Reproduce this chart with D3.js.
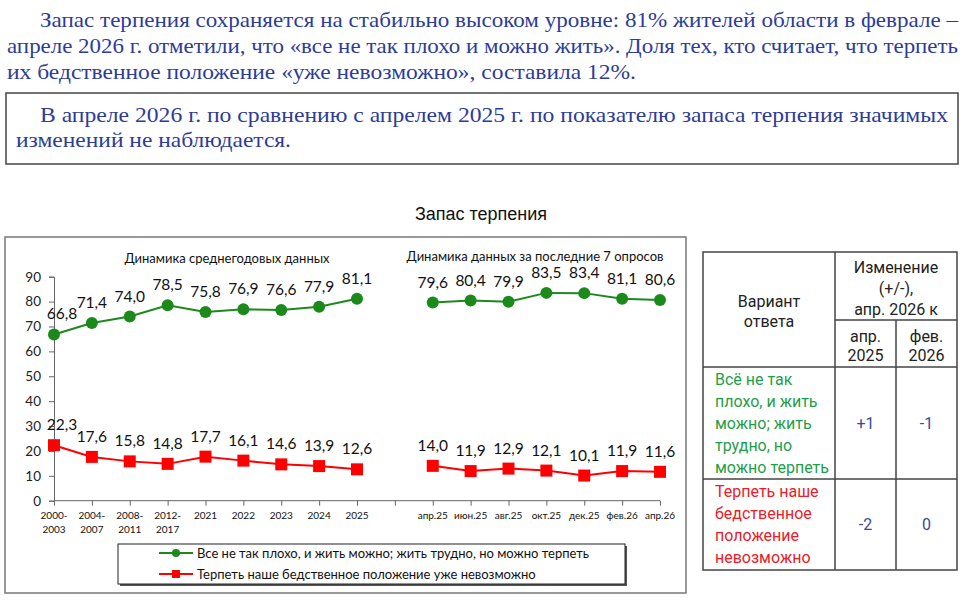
<!DOCTYPE html>
<html>
<head>
<meta charset="utf-8">
<script src="https://cdn.jsdelivr.net/npm/d3@7"></script>
<style>
  body { margin: 0; background: #fff; }
  svg { display: block; }
</style>
</head>
<body>
<div id="chart"></div>
<script>
// chart data
const annualLabels = ['2000-2003', '2004-2007', '2008-2011', '2012-2017', '2021', '2022', '2023', '2024', '2025'];
const surveyLabels = ['апр.25', 'июн.25', 'авг.25', 'окт.25', 'дек.25', 'фев.26', 'апр.26'];
const okAnnual = [66.8, 71.4, 74.0, 78.5, 75.8, 76.9, 76.6, 77.9, 81.1];
const okSurvey = [79.6, 80.4, 79.9, 83.5, 83.4, 81.1, 80.6];
const badAnnual = [22.3, 17.6, 15.8, 14.8, 17.7, 16.1, 14.6, 13.9, 12.6];
const badSurvey = [14.0, 11.9, 12.9, 12.1, 10.1, 11.9, 11.6];
const yTicks = [0, 10, 20, 30, 40, 50, 60, 70, 80, 90];
const seriesNames = ['Все не так плохо, и жить можно; жить трудно, но можно терпеть',
                     'Терпеть наше бедственное положение уже невозможно'];

// table data
const tableAnswers = [['Всё не так', 'плохо, и жить', 'можно; жить', 'трудно, но', 'можно терпеть'],
                      ['Терпеть наше', 'бедственное', 'положение', 'невозможно']];
const tableChanges = [['+1', '-1'], ['-2', '0']];
const tableHead = ['Изменение', '(+/-),', 'апр. 2026 к'];
const tableSubHead = [['апр.', '2025'], ['фев.', '2026']];

// text
const para1 = ['Запас терпения сохраняется на стабильно высоком уровне: 81% жителей области в феврале –',
               'апреле 2026 г. отметили, что «все не так плохо и можно жить». Доля тех, кто считает, что терпеть',
               'их бедственное положение «уже невозможно», составила 12%.'];
const para2 = ['В апреле 2026 г. по сравнению с апрелем 2025 г. по показателю запаса терпения значимых',
               'изменений не наблюдается.'];

const W = 966, H = 602;
const blue = '#2d3c98', green = '#1b8a1b', red = '#ff0000';
const chartFont = 'Lato, "Open Sans", sans-serif';

const svg = d3.select('#chart').append('svg')
    .attr('width', W)
    .attr('height', H);

// paragraphs (justified lines)
const serif = '"Liberation Serif", "DejaVu Serif", serif';
const p1Lines = [{x: 40, w: 918, y: 27}, {x: 7, w: 951, y: 53}, {x: 7, w: 629, y: 79}];
para1.forEach((t, i) => {
  svg.append('text')
      .attr('x', p1Lines[i].x).attr('y', p1Lines[i].y)
      .attr('textLength', p1Lines[i].w).attr('lengthAdjust', 'spacingAndGlyphs')
      .style('font-family', serif).style('font-size', '22px').style('fill', blue)
      .text(t);
});

svg.append('rect')
    .attr('x', 6).attr('y', 93).attr('width', 952).attr('height', 71)
    .style('fill', 'none').style('stroke', '#444').style('stroke-width', 1.5);

const p2Lines = [{x: 40, w: 908, y: 122}, {x: 16, w: 275, y: 147}];
para2.forEach((t, i) => {
  svg.append('text')
      .attr('x', p2Lines[i].x).attr('y', p2Lines[i].y)
      .attr('textLength', p2Lines[i].w).attr('lengthAdjust', 'spacingAndGlyphs')
      .style('font-family', serif).style('font-size', '22px').style('fill', blue)
      .text(t);
});

// chart title
svg.append('text')
    .attr('x', 481).attr('y', 220)
    .style('text-anchor', 'middle')
    .style('font-family', '"Liberation Sans", Arial, sans-serif')
    .style('font-size', '18px').style('fill', '#111')
    .text('Запас терпения');

// chart frame
svg.append('rect')
    .attr('x', 5).attr('y', 237).attr('width', 681).attr('height', 356)
    .style('fill', '#fff').style('stroke', '#777').style('stroke-width', 1.5);

// scales
const categories = annualLabels.concat([''], surveyLabels);
const x = d3.scalePoint().domain(categories).range([54, 660]);
const y = d3.scaleLinear().domain([0, 90]).range([500.7, 276.7]);

const fmt = d3.formatLocale({decimal: ',', thousands: ' ', grouping: [3], currency: ['', '']}).format('.1f');

// axes
const yAxis = svg.append('g')
    .attr('transform', 'translate(54,0)')
    .call(d3.axisLeft(y).tickValues(yTicks).tickSize(5).tickPadding(8).tickFormat(d3.format('d')));
yAxis.selectAll('text').style('font-family', chartFont).style('font-size', '13.5px').style('fill', '#222');

const xAxis = svg.append('g')
    .attr('transform', 'translate(0,' + y(0) + ')')
    .call(d3.axisBottom(x).tickSize(5).tickFormat(''));
xAxis.select('.domain').attr('d', 'M' + x.range()[0] + ',0H' + x.range()[1]);

[yAxis, xAxis].forEach(a => {
  a.selectAll('.domain, .tick line').style('stroke', '#666');
});

// x labels (wrap ranges after hyphen)
categories.forEach(c => {
  if (!c) return;
  const parts = c.indexOf('-') > 0 ? [c.slice(0, c.indexOf('-') + 1), c.slice(c.indexOf('-') + 1)] : [c];
  const t = svg.append('text')
      .attr('x', x(c)).attr('y', 519)
      .style('text-anchor', 'middle')
      .style('font-family', chartFont).style('font-size', '10px').style('fill', '#111');
  parts.forEach((p, i) => {
    t.append('tspan').attr('x', x(c)).attr('dy', i ? 13.5 : 0).text(p);
  });
});

// subtitles
svg.append('text')
    .attr('x', 227).attr('y', 263)
    .style('text-anchor', 'middle')
    .style('font-family', chartFont).style('font-size', '13px').style('fill', '#111')
    .text('Динамика среднегодовых данных');
svg.append('text')
    .attr('x', 535).attr('y', 261)
    .style('text-anchor', 'middle')
    .style('font-family', chartFont).style('font-size', '13px').style('fill', '#111')
    .text('Динамика данных за последние 7 опросов');

// series
const line = d3.line()
    .x(d => x(d.c))
    .y(d => y(d.v));

function toPoints(labels, values) {
  return labels.map((c, i) => ({c: c, v: values[i]}));
}

const series = [
  {color: green, shape: 'circle', segs: [toPoints(annualLabels, okAnnual), toPoints(surveyLabels, okSurvey)]},
  {color: red, shape: 'square', segs: [toPoints(annualLabels, badAnnual), toPoints(surveyLabels, badSurvey)]}
];

series.forEach(s => {
  s.segs.forEach(seg => {
    svg.append('path')
        .datum(seg)
        .attr('d', line)
        .style('fill', 'none').style('stroke', s.color).style('stroke-width', 2);

    if (s.shape === 'circle') {
      svg.selectAll(null).data(seg).enter().append('circle')
          .attr('cx', d => x(d.c)).attr('cy', d => y(d.v)).attr('r', 6)
          .style('fill', s.color);
    } else {
      svg.selectAll(null).data(seg).enter().append('rect')
          .attr('x', d => x(d.c) - 6).attr('y', d => y(d.v) - 6)
          .attr('width', 12).attr('height', 12)
          .style('fill', s.color);
    }

    svg.selectAll(null).data(seg).enter().append('text')
        .attr('x', d => x(d.c) + (d.c === annualLabels[0] ? 8 : 0))
        .attr('y', d => y(d.v) - 15)
        .style('text-anchor', 'middle')
        .style('font-family', chartFont).style('font-size', '15.5px').style('fill', '#111')
        .text(d => fmt(d.v));
  });
});

// legend
svg.append('rect')
    .attr('x', 120).attr('y', 546).attr('width', 507).attr('height', 40)
    .style('fill', '#555');
svg.append('rect')
    .attr('x', 118).attr('y', 544).attr('width', 507).attr('height', 40)
    .style('fill', '#fff').style('stroke', '#222').style('stroke-width', 1);

series.forEach((s, i) => {
  const ly = 553 + i * 21;
  svg.append('line')
      .attr('x1', 159).attr('x2', 193).attr('y1', ly).attr('y2', ly)
      .style('stroke', s.color).style('stroke-width', 2);
  if (s.shape === 'circle') {
    svg.append('circle').attr('cx', 176).attr('cy', ly).attr('r', 4).style('fill', s.color);
  } else {
    svg.append('rect').attr('x', 172).attr('y', ly - 4).attr('width', 8).attr('height', 8).style('fill', s.color);
  }
  svg.append('text')
      .attr('x', 197).attr('y', ly + 4.5)
      .style('font-family', chartFont).style('font-size', '13px').style('fill', '#111')
      .text(seriesNames[i]);
});

// table
const tFont = 'Roboto, "Liberation Sans", sans-serif';
const tb = {left: 703, right: 957, top: 252, bottom: 570, c1: 835, c2: 896, sub: 320, head: 367, row1: 479};
const tg = svg.append('g').style('stroke', '#444').style('stroke-width', 1.5);
tg.append('rect').attr('x', tb.left).attr('y', tb.top)
    .attr('width', tb.right - tb.left).attr('height', tb.bottom - tb.top).style('fill', 'none');
tg.append('line').attr('x1', tb.c1).attr('x2', tb.c1).attr('y1', tb.top).attr('y2', tb.bottom);
tg.append('line').attr('x1', tb.c2).attr('x2', tb.c2).attr('y1', tb.sub).attr('y2', tb.bottom);
tg.append('line').attr('x1', tb.c1).attr('x2', tb.right).attr('y1', tb.sub).attr('y2', tb.sub);
tg.append('line').attr('x1', tb.left).attr('x2', tb.right).attr('y1', tb.head).attr('y2', tb.head);
tg.append('line').attr('x1', tb.left).attr('x2', tb.right).attr('y1', tb.row1).attr('y2', tb.row1);

function cellText(lines, cx, cy, anchor, color, lh) {
  const t = svg.append('text')
      .attr('x', cx).attr('y', cy - (lines.length - 1) * lh / 2 + 5.5)
      .style('text-anchor', anchor)
      .style('font-family', tFont).style('font-size', '16px').style('fill', color);
  lines.forEach((l, i) => t.append('tspan').attr('x', cx).attr('dy', i ? lh : 0).text(l));
}

cellText(['Вариант', 'ответа'], (tb.left + tb.c1) / 2, 311, 'middle', '#222', 20);
cellText(tableHead, (tb.c1 + tb.right) / 2, 288, 'middle', '#222', 21);
cellText(tableSubHead[0], (tb.c1 + tb.c2) / 2, 346, 'middle', '#222', 19);
cellText(tableSubHead[1], (tb.c2 + tb.right) / 2, 346, 'middle', '#222', 19);

const rowColors = ['#1f9e4a', '#e8202a'];
const rowMid = [(tb.head + tb.row1) / 2, (tb.row1 + tb.bottom) / 2];
tableAnswers.forEach((lines, i) => {
  cellText(lines, 715, rowMid[i], 'start', rowColors[i], 22);
  cellText([tableChanges[i][0]], (tb.c1 + tb.c2) / 2, rowMid[i], 'middle', '#3a4a9a', 22);
  cellText([tableChanges[i][1]], (tb.c2 + tb.right) / 2, rowMid[i], 'middle', '#3a4a9a', 22);
});
</script>
</body>
</html>
